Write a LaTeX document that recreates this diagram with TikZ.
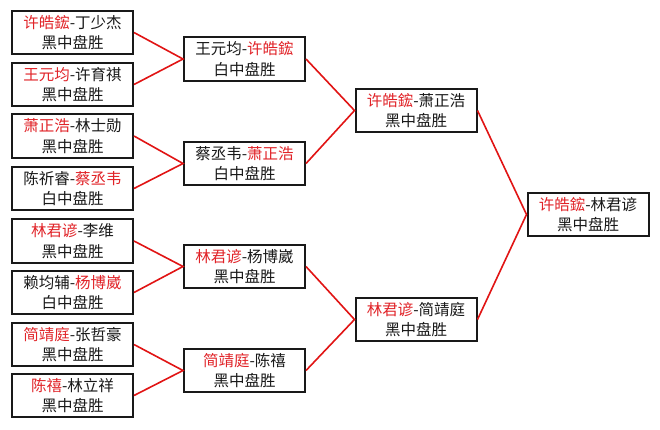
\documentclass[tikz,border=0pt]{standalone}
\usepackage{fontspec}
\setmainfont{Noto Sans CJK SC}
\definecolor{winred}{RGB}{225,35,40}
\definecolor{txtblack}{RGB}{25,25,25}
\definecolor{linered}{RGB}{225,20,20}
\newcommand{\W}[1]{\textcolor{winred}{#1}}
\tikzset{
  box/.style={draw=black!90, line width=2pt, fill=white, minimum width=121pt, minimum height=43.5pt,
    inner sep=0pt, align=center, text=txtblack, font=\fontsize{15.5}{20.5}\selectfont},
  link/.style={draw=linered, line width=1.6pt}
}
\begin{document}
\begin{tikzpicture}[x=1pt,y=-1pt]
\useasboundingbox[fill=white] (0,0) rectangle (660,429);
% round 1
\node[box] (r1a) at (72.5,32.5) {\W{许皓鋐}-丁少杰\\黑中盘胜};
\node[box] (r1b) at (72.5,84.5) {\W{王元均}-许育祺\\黑中盘胜};
\node[box] (r1c) at (72.5,136) {\W{萧正浩}-林士勋\\黑中盘胜};
\node[box] (r1d) at (72.5,188.5) {陈祈睿-\W{蔡丞韦}\\白中盘胜};
\node[box] (r1e) at (72.5,241) {\W{林君谚}-李维\\黑中盘胜};
\node[box] (r1f) at (72.5,292.5) {赖均辅-\W{杨博崴}\\白中盘胜};
\node[box] (r1g) at (72.5,344.5) {\W{简靖庭}-张哲豪\\黑中盘胜};
\node[box] (r1h) at (72.5,395.5) {\W{陈禧}-林立祥\\黑中盘胜};
% round 2
\node[box] (r2a) at (244.5,59) {王元均-\W{许皓鋐}\\白中盘胜};
\node[box] (r2b) at (244.5,163.5) {蔡丞韦-\W{萧正浩}\\白中盘胜};
\node[box] (r2c) at (244.5,266.5) {\W{林君谚}-杨博崴\\黑中盘胜};
\node[box] (r2d) at (244.5,370.5) {\W{简靖庭}-陈禧\\黑中盘胜};
% round 3
\node[box] (r3a) at (416,110.5) {\W{许皓鋐}-萧正浩\\黑中盘胜};
\node[box] (r3b) at (416,319.5) {\W{林君谚}-简靖庭\\黑中盘胜};
% final
\node[box] (fin) at (588,214.5) {\W{许皓鋐}-林君谚\\黑中盘胜};
% connectors
\draw[link] (r1a.east) -- (r2a.west) -- (r1b.east);
\draw[link] (r1c.east) -- (r2b.west) -- (r1d.east);
\draw[link] (r1e.east) -- (r2c.west) -- (r1f.east);
\draw[link] (r1g.east) -- (r2d.west) -- (r1h.east);
\draw[link] (r2a.east) -- (r3a.west) -- (r2b.east);
\draw[link] (r2c.east) -- (r3b.west) -- (r2d.east);
\draw[link] (r3a.east) -- (fin.west) -- (r3b.east);
\end{tikzpicture}
\end{document}
